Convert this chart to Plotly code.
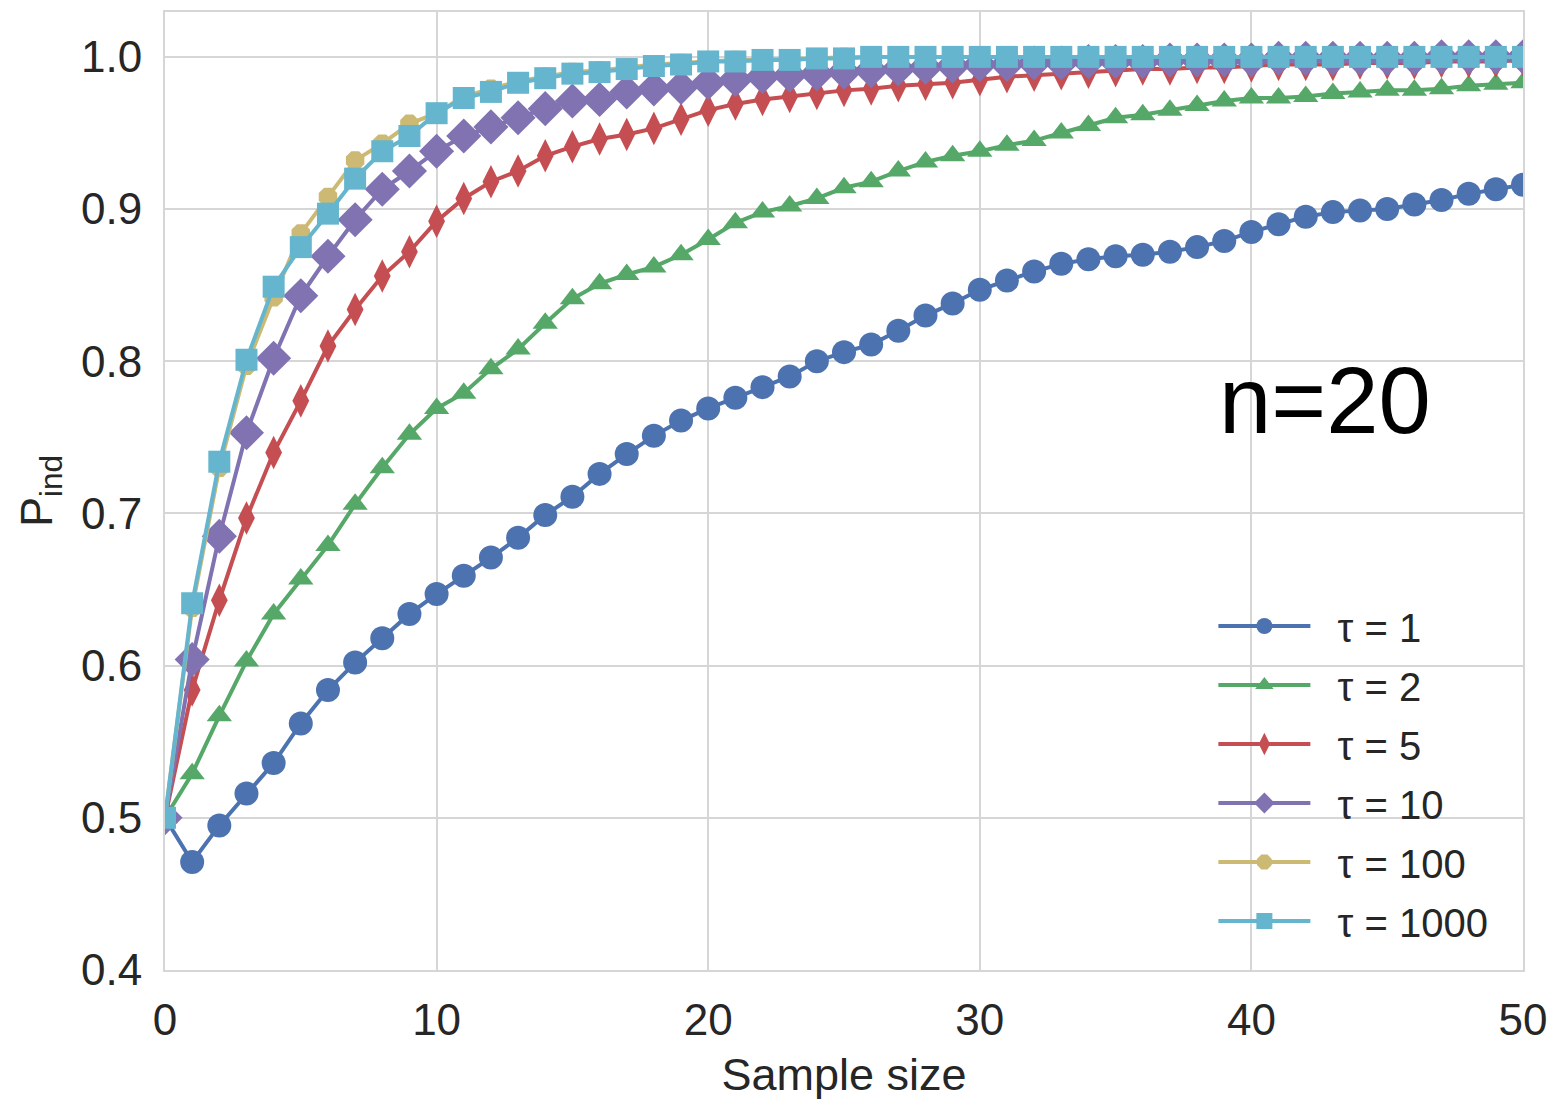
import plotly.graph_objects as go

sample_size = list(range(51))

p_tau1 = [0.500, 0.471, 0.495, 0.516, 0.536, 0.562, 0.584, 0.602, 0.618, 0.634,
          0.647, 0.659, 0.671, 0.684, 0.699, 0.711, 0.726, 0.739, 0.751, 0.761,
          0.769, 0.776, 0.783, 0.790, 0.800, 0.806, 0.811, 0.820, 0.830, 0.838,
          0.847, 0.853, 0.859, 0.864, 0.867, 0.869, 0.870, 0.872, 0.875, 0.879,
          0.885, 0.890, 0.895, 0.898, 0.899, 0.900, 0.903, 0.906, 0.910, 0.913,
          0.916]
p_tau2 = [0.500, 0.529, 0.567, 0.603, 0.634, 0.657, 0.679, 0.706, 0.730, 0.752,
          0.769, 0.779, 0.795, 0.808, 0.825, 0.841, 0.851, 0.857, 0.862, 0.870,
          0.880, 0.891, 0.898, 0.902, 0.907, 0.914, 0.918, 0.925, 0.931, 0.935,
          0.938, 0.942, 0.945, 0.950, 0.955, 0.960, 0.962, 0.965, 0.968, 0.971,
          0.973, 0.973, 0.974, 0.976, 0.977, 0.978, 0.978, 0.979, 0.981, 0.982,
          0.983]
p_tau5 = [0.500, 0.584, 0.643, 0.697, 0.740, 0.774, 0.810, 0.834, 0.856, 0.872,
          0.892, 0.907, 0.918, 0.925, 0.935, 0.941, 0.946, 0.949, 0.953, 0.959,
          0.965, 0.969, 0.972, 0.974, 0.976, 0.978, 0.979, 0.981, 0.982, 0.983,
          0.985, 0.987, 0.988, 0.989, 0.990, 0.991, 0.992, 0.992, 0.993, 0.993,
          0.994, 0.995, 0.995, 0.995, 0.996, 0.996, 0.996, 0.997, 0.997, 0.997,
          0.998]
p_tau10 = [0.500, 0.604, 0.685, 0.753, 0.802, 0.843, 0.869, 0.893, 0.913, 0.925,
           0.938, 0.948, 0.954, 0.960, 0.966, 0.971, 0.972, 0.977, 0.979, 0.980,
           0.983, 0.985, 0.987, 0.988, 0.989, 0.990, 0.991, 0.992, 0.993, 0.994,
           0.995, 0.995, 0.996, 0.996, 0.997, 0.997, 0.997, 0.998, 0.998, 0.998,
           0.998, 0.999, 0.999, 0.999, 0.999, 0.999, 0.999, 1.000, 1.000, 1.000,
           1.000]
p_tau100 = [0.500, 0.638, 0.730, 0.797, 0.842, 0.884, 0.908, 0.932, 0.943, 0.956,
            0.963, 0.974, 0.979, 0.984, 0.987, 0.990, 0.991, 0.993, 0.995, 0.996,
            0.997, 0.998, 0.998, 0.999, 0.999, 1.000, 1.000, 1.000, 1.000, 1.000,
            1.000, 1.000, 1.000, 1.000, 1.000, 1.000, 1.000, 1.000, 1.000, 1.000,
            1.000, 1.000, 1.000, 1.000, 1.000, 1.000, 1.000, 1.000, 1.000, 1.000,
            1.000]
p_tau1000 = [0.500, 0.641, 0.734, 0.801, 0.849, 0.875, 0.897, 0.920, 0.938, 0.948,
             0.963, 0.973, 0.977, 0.983, 0.986, 0.989, 0.990, 0.992, 0.994, 0.995,
             0.997, 0.997, 0.998, 0.998, 0.999, 0.999, 1.000, 1.000, 1.000, 1.000,
             1.000, 1.000, 1.000, 1.000, 1.000, 1.000, 1.000, 1.000, 1.000, 1.000,
             1.000, 1.000, 1.000, 1.000, 1.000, 1.000, 1.000, 1.000, 1.000, 1.000,
             1.000]

series_names = ["τ = 1", "τ = 2", "τ = 5", "τ = 10", "τ = 100", "τ = 1000"]
series_values = [p_tau1, p_tau2, p_tau5, p_tau10, p_tau100, p_tau1000]
colors = ["#4C72B0", "#55A868", "#C44E52", "#8172B2", "#CCB974", "#64B5CD"]
symbols = ["circle", "triangle-up", "diamond-tall", "diamond", "octagon", "square"]
sizes = [24, 22, 24, 27, 20, 22]

x_ticks = [0, 10, 20, 30, 40, 50]
y_ticks = [0.4, 0.5, 0.6, 0.7, 0.8, 0.9, 1.0]
y_tick_text = ["0.4", "0.5", "0.6", "0.7", "0.8", "0.9", "1.0"]

FONT = "Liberation Sans, Arial, sans-serif"
TXT = "#262626"
GRID = "#d6d6d6"

fig = go.Figure()
for name, vals, c, s, sz in zip(series_names, series_values, colors, symbols, sizes):
    fig.add_trace(go.Scatter(
        x=sample_size, y=vals, name="\u00a0\u00a0" + name, mode="lines+markers",
        legendgroup=name,
        line=dict(color=c, width=4),
        marker=dict(symbol=s, size=sz, color=c, line=dict(width=0)),
    ))

fig.add_annotation(
    text="n=20", x=0.854, y=0.594, xref="paper", yref="paper",
    showarrow=False, font=dict(family=FONT, size=94, color="black"),
    xanchor="center", yanchor="middle",
)

fig.update_layout(
    width=1552, height=1092,
    margin=dict(l=157, r=37, t=2, b=130),
    paper_bgcolor="white", plot_bgcolor="white",
    font=dict(family=FONT, color=TXT, size=44),
    showlegend=True,
    legend=dict(
        x=0.772, y=0.393, xanchor="left", yanchor="top",
        bgcolor="rgba(0,0,0,0)", borderwidth=0,
        font=dict(family=FONT, size=40, color=TXT),
        tracegroupgap=4, itemwidth=92,
    ),
    xaxis=dict(
        range=[0, 50], tickvals=x_ticks,
        showgrid=True, gridcolor=GRID, gridwidth=2,
        showline=True, linecolor=GRID, linewidth=2, mirror=True,
        zeroline=False, ticks="", ticklabelstandoff=10,
        tickfont=dict(family=FONT, size=44, color=TXT),
        title=dict(text="Sample size", font=dict(family=FONT, size=45, color=TXT), standoff=18),
    ),
    yaxis=dict(
        range=[0.4, 1.0295], tickvals=y_ticks, ticktext=y_tick_text,
        showgrid=True, gridcolor=GRID, gridwidth=2,
        showline=True, linecolor=GRID, linewidth=2, mirror=True,
        zeroline=False, ticks="", ticklabelstandoff=12,
        tickfont=dict(family=FONT, size=44, color=TXT),
        title=dict(text="P<sub>ind</sub>", font=dict(family=FONT, size=45, color=TXT), standoff=14),
    ),
)

fig.write_html("out.html")
